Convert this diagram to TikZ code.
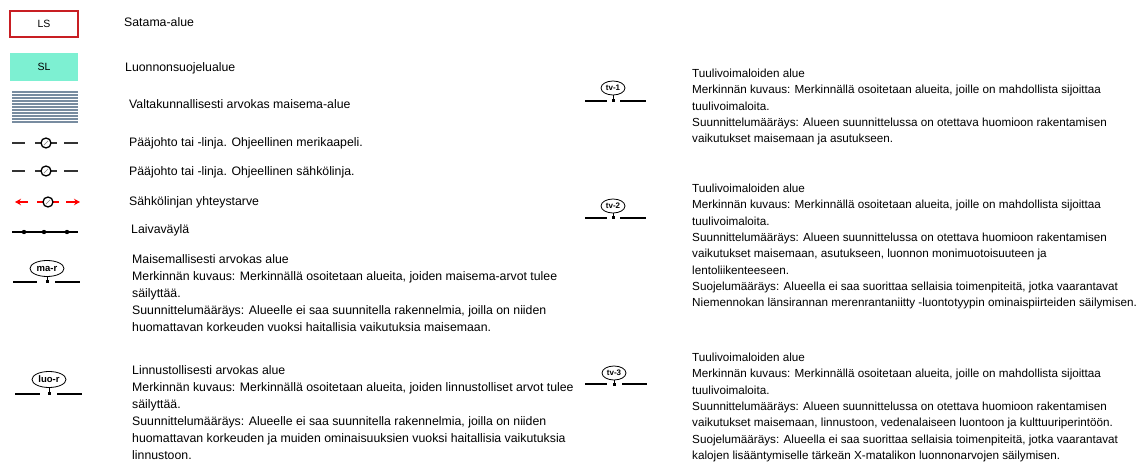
\documentclass[tikz,border=0pt]{standalone}
\usepackage{fontspec}
\setmainfont{Liberation Sans}
\usetikzlibrary{shapes.geometric,arrows.meta}

\definecolor{aqua}{RGB}{125,240,210}
\definecolor{raita}{RGB}{120,140,160}
\definecolor{reuna}{RGB}{200,30,35}

\begin{document}
\begin{tikzpicture}[x=1pt,y=-1pt]
  % Tyylit
  \tikzset{
    selite/.style={anchor=mid west, inner sep=0pt, font=\fontsize{12.3}{16.9}\selectfont},
    kuvaus/.style={anchor=north west, inner sep=0pt, align=left, font=\fontsize{12.3}{16.9}\selectfont},
    kuvaus_o/.style={kuvaus, font=\fontsize{11.7}{16.3}\selectfont},
    ruutu/.style={minimum width=68pt, minimum height=26pt, inner sep=0pt, font=\fontsize{10.5}{11}\selectfont},
    johto/.style={line width=2pt, black!80},
    pallo/.style={circle, draw, line width=1.3pt, fill=white, minimum size=10pt, inner sep=0pt},
    tunnus/.style={ellipse, draw, line width=0.8pt, fill=white, inner sep=0pt, font=\fontsize{9.5}{9.5}\selectfont\bfseries},
    tunnus_p/.style={tunnus, minimum width=24pt, minimum height=14pt, font=\fontsize{8}{8}\selectfont\bfseries},
    viiva/.style={line width=2.2pt, black},
    jalka/.style={line width=0.7pt, black}
  }
  \useasboundingbox (0,0) rectangle (1146,462);

  % Satama-alue ja luonnonsuojelualue
  \node[ruutu, draw=reuna, line width=1.8pt] (ls) at (44,24) {LS};
  \node[selite] (ls_t) at (124,24) {Satama-alue};
  \node[ruutu, fill=aqua, minimum height=28pt] (sl) at (44,67) {SL};
  \node[selite] (sl_t) at (125,69) {Luonnonsuojelualue};

  % Valtakunnallisesti arvokas maisema-alue
  \foreach \y in {92,95,...,122}
    \draw[line width=1.7pt, raita] (12,\y) -- (78,\y);
  \node[selite] (vm_t) at (129,106) {Valtakunnallisesti arvokas maisema-alue};

  % Pääjohdot
  \foreach \y/\nimi in {143/mk, 171/sj} {
    \draw[johto] (12,\y) -- (25,\y);
    \draw[johto] (35,\y) -- (57,\y);
    \draw[johto] (64,\y) -- (78,\y);
    \node[pallo] (\nimi) at (46,\y) {};
    \draw[gray, line width=0.7pt, shorten <=2.5pt, shorten >=2.5pt] (\nimi.south west) -- (\nimi.north east);
  }
  \node[selite] (mk_t) at (129,144) {Pääjohto tai -linja. Ohjeellinen merikaapeli.};
  \node[selite] (sj_t) at (129,173) {Pääjohto tai -linja. Ohjeellinen sähkölinja.};

  % Sähkölinjan yhteystarve
  \draw[red, line width=1.5pt, -{Stealth[length=6pt,width=6.5pt]}] (28,202) -- (15,202);
  \draw[red, line width=1.5pt] (37,202) -- (59,202);
  \draw[red, line width=1.5pt, -{Stealth[length=6pt,width=6.5pt]}] (66,202) -- (80,202);
  \node[pallo] (yt) at (48,202) {};
  \draw[gray, line width=0.7pt, shorten <=2.5pt, shorten >=2.5pt] (yt.south west) -- (yt.north east);
  \node[selite] (yt_t) at (129,203) {Sähkölinjan yhteystarve};

  % Laivaväylä
  \draw[line width=1.3pt] (12,232) -- (78,232);
  \foreach \x in {24,44,67}
    \fill (\x,232) circle (2.2pt);
  \node[selite] (lv_t) at (131,231) {Laivaväylä};

  % Maisemallisesti arvokas alue
  \node[tunnus, minimum width=34pt, minimum height=16pt] (mar) at (47,268.5) {ma-r};
  \draw[viiva] (13,282) -- (37,282);
  \draw[viiva] (55,282) -- (80,282);
  \coordinate (mar_k) at (47,281);
  \draw[jalka] (mar.south) -- (mar_k);
  \fill (45.5,280) rectangle (48.5,283);
  \node[kuvaus] (mar_t) at (132,254.7) {Maisemallisesti arvokas alue\\
    Merkinnän kuvaus: Merkinnällä osoitetaan alueita, joiden maisema-arvot tulee\\
    säilyttää.\\
    Suunnittelumääräys: Alueelle ei saa suunnitella rakennelmia, joilla on niiden\\
    huomattavan korkeuden vuoksi haitallisia vaikutuksia maisemaan.};

  % Linnustollisesti arvokas alue
  \node[tunnus, minimum width=34pt, minimum height=16pt] (luor) at (49,379.5) {luo-r};
  \draw[viiva] (15,394) -- (40,394);
  \draw[viiva] (57,394) -- (82,394);
  \coordinate (luor_k) at (49,393);
  \draw[jalka] (luor.south) -- (luor_k);
  \fill (47.5,392) rectangle (50.5,395);
  \node[kuvaus] (luor_t) at (132,365.7) {Linnustollisesti arvokas alue\\
    Merkinnän kuvaus: Merkinnällä osoitetaan alueita, joiden linnustolliset arvot tulee\\
    säilyttää.\\
    Suunnittelumääräys: Alueelle ei saa suunnitella rakennelmia, joilla on niiden\\
    huomattavan korkeuden ja muiden ominaisuuksien vuoksi haitallisia vaikutuksia\\
    linnustoon.};

  % Tuulivoimaloiden alueet
  \foreach \ly in {101, 218} {
    \draw[viiva] (585,\ly) -- (607,\ly);
    \draw[viiva] (620,\ly) -- (646,\ly);
  }
  \node[tunnus_p] (tv1) at (613,88) {tv-1};
  \coordinate (tv1_k) at (613,100);
  \draw[jalka] (tv1.south) -- (tv1_k);
  \fill (611.5,99.5) rectangle (614.5,102.5);
  \node[tunnus_p] (tv2) at (613,206) {tv-2};
  \coordinate (tv2_k) at (613,217);
  \draw[jalka] (tv2.south) -- (tv2_k);
  \fill (611.5,216.5) rectangle (614.5,219.5);
  \draw[viiva] (585,384) -- (607,384);
  \draw[viiva] (622,384) -- (647,384);
  \node[tunnus_p] (tv3) at (614,373) {tv-3};
  \coordinate (tv3_k) at (614,383);
  \draw[jalka] (tv3.south) -- (tv3_k);
  \fill (612.5,382.5) rectangle (615.5,385.5);

  \node[kuvaus_o] (tv1_t) at (692,69) {Tuulivoimaloiden alue\\
    Merkinnän kuvaus: Merkinnällä osoitetaan alueita, joille on mahdollista sijoittaa\\
    tuulivoimaloita.\\
    Suunnittelumääräys: Alueen suunnittelussa on otettava huomioon rakentamisen\\
    vaikutukset maisemaan ja asutukseen.};
  \node[kuvaus_o] (tv2_t) at (692,184) {Tuulivoimaloiden alue\\
    Merkinnän kuvaus: Merkinnällä osoitetaan alueita, joille on mahdollista sijoittaa\\
    tuulivoimaloita.\\
    Suunnittelumääräys: Alueen suunnittelussa on otettava huomioon rakentamisen\\
    vaikutukset maisemaan, asutukseen, luonnon monimuotoisuuteen ja\\
    lentoliikenteeseen.\\
    Suojelumääräys: Alueella ei saa suorittaa sellaisia toimenpiteitä, jotka vaarantavat\\
    Niemennokan länsirannan merenrantaniitty -luontotyypin ominaispiirteiden säilymisen.};
  \node[kuvaus_o] (tv3_t) at (692,353) {Tuulivoimaloiden alue\\
    Merkinnän kuvaus: Merkinnällä osoitetaan alueita, joille on mahdollista sijoittaa\\
    tuulivoimaloita.\\
    Suunnittelumääräys: Alueen suunnittelussa on otettava huomioon rakentamisen\\
    vaikutukset maisemaan, linnustoon, vedenalaiseen luontoon ja kulttuuriperintöön.\\
    Suojelumääräys: Alueella ei saa suorittaa sellaisia toimenpiteitä, jotka vaarantavat\\
    kalojen lisääntymiselle tärkeän X-matalikon luonnonarvojen säilymisen.};
\end{tikzpicture}
\end{document}
